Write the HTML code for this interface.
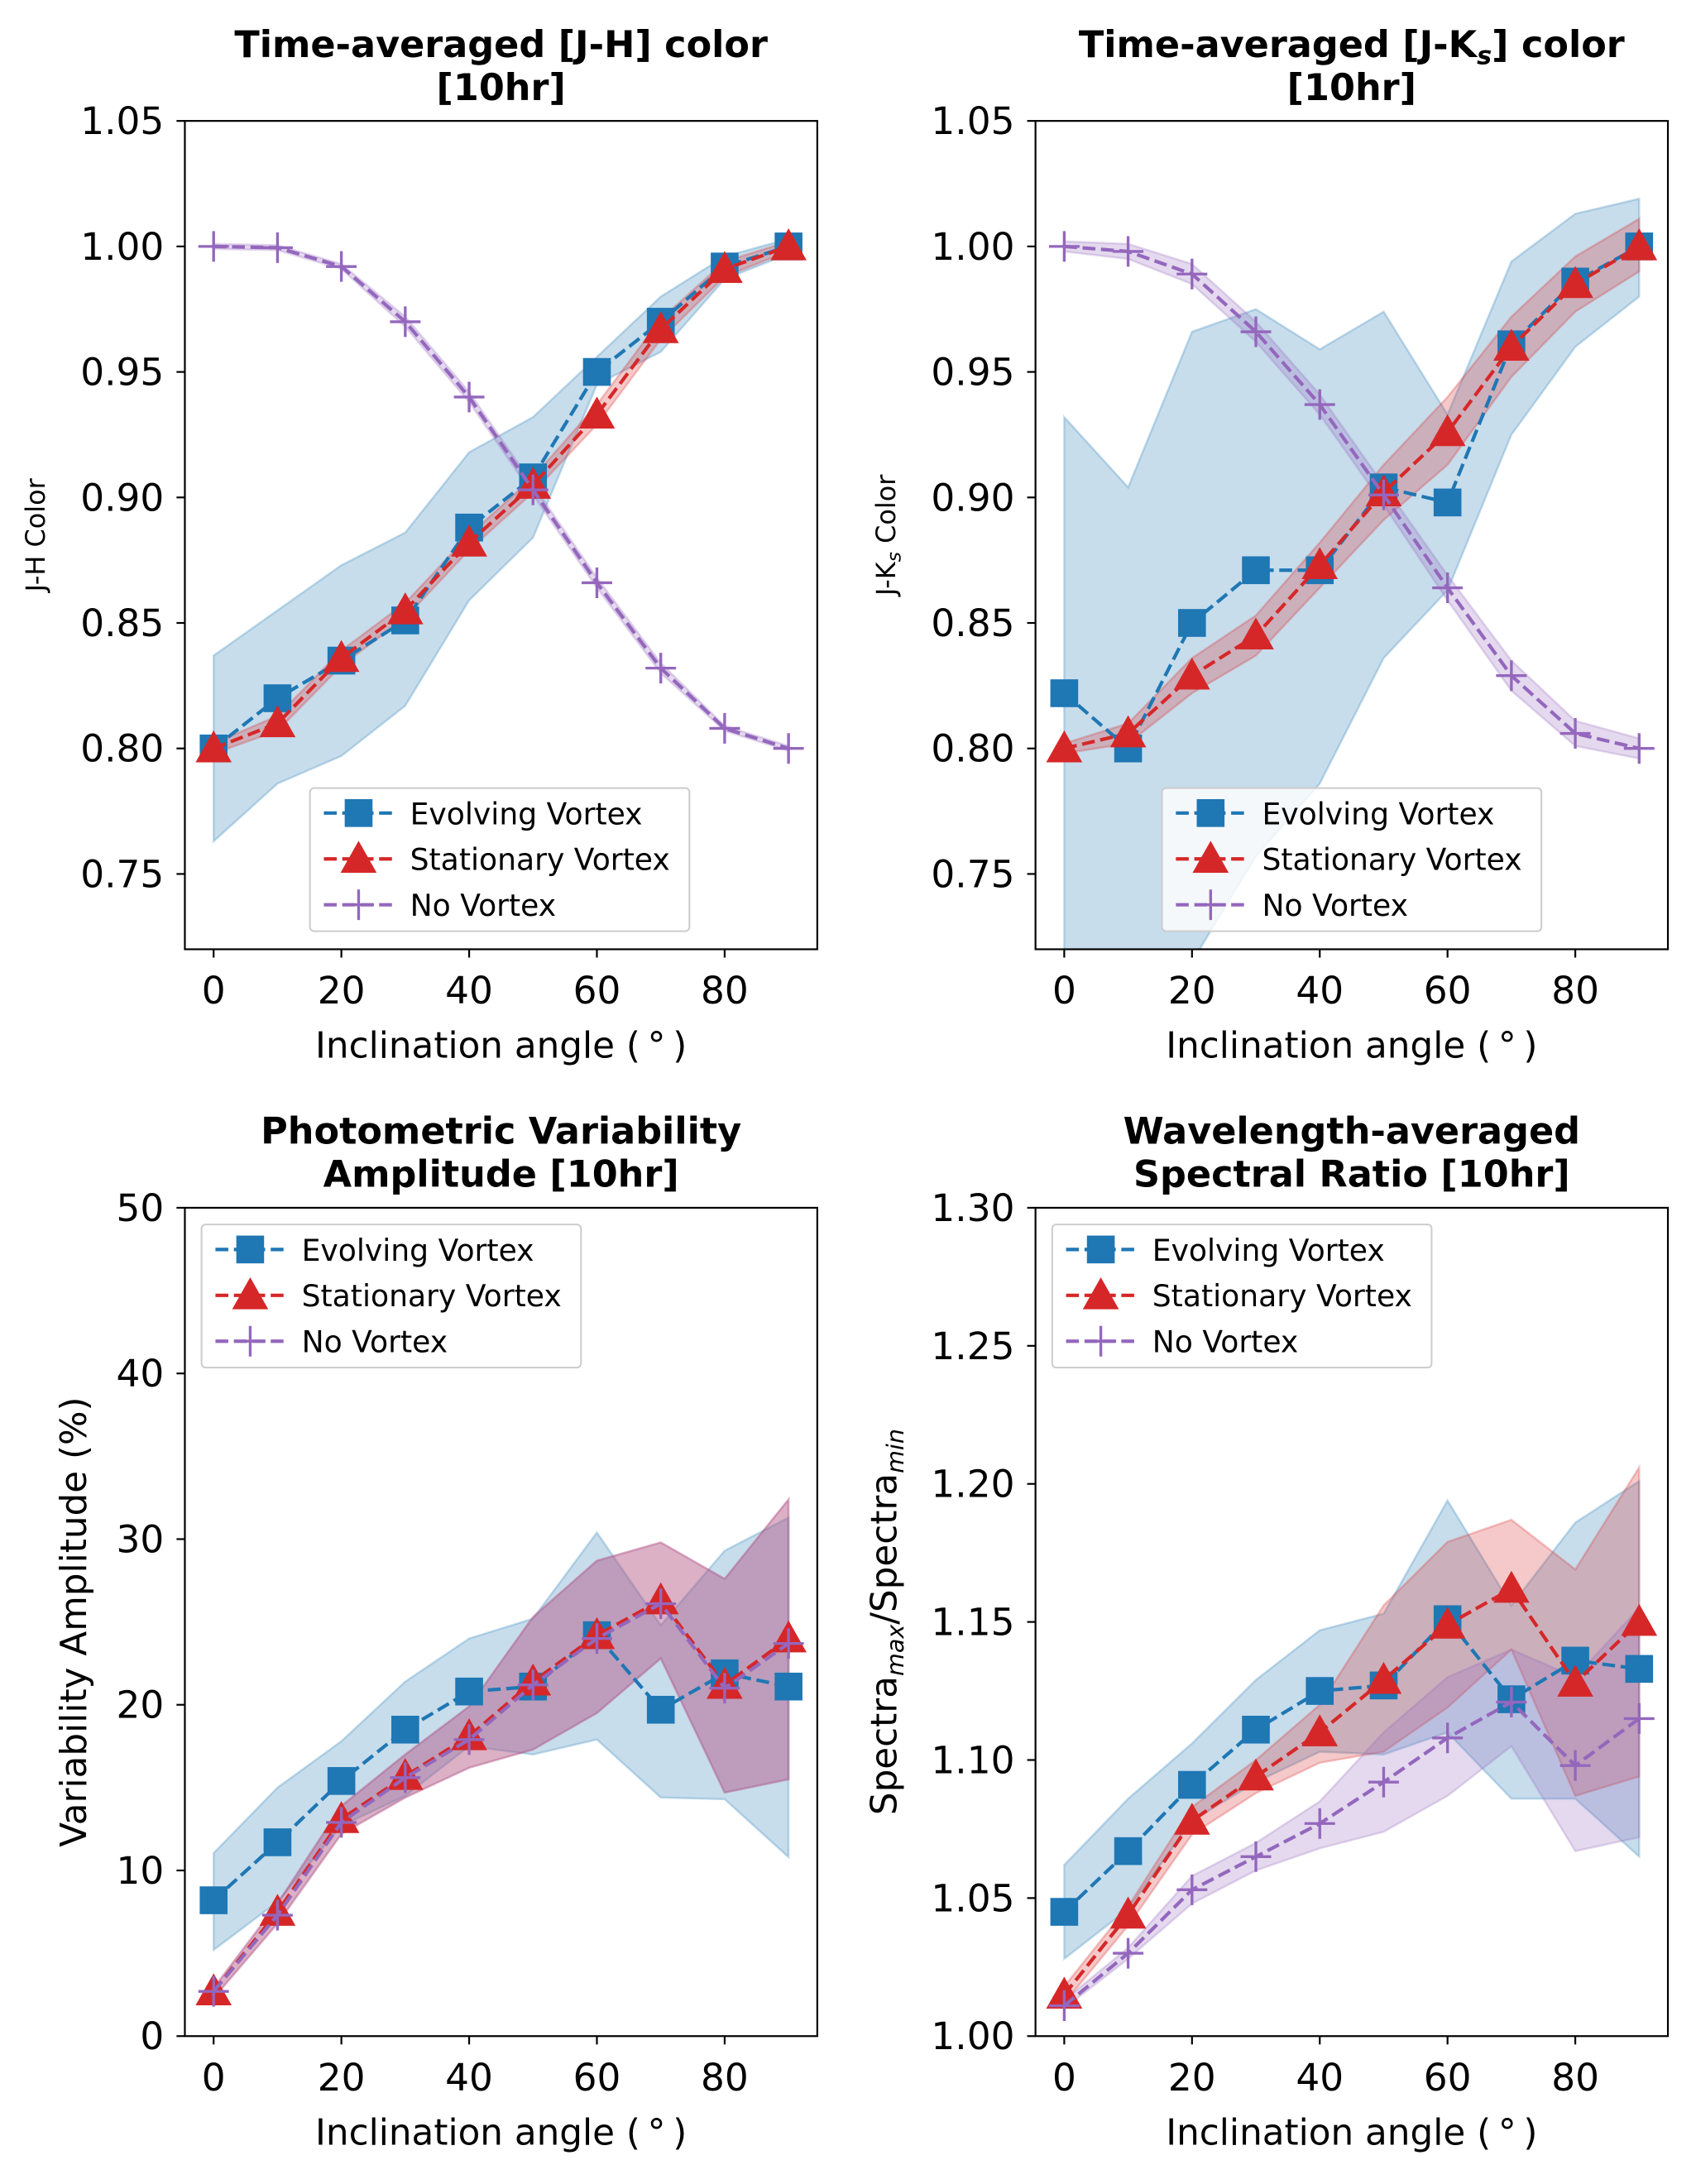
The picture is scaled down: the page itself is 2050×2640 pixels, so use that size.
<!DOCTYPE html>
<html><head><meta charset="utf-8"><style>
html,body{margin:0;padding:0;background:#fff}
svg{display:block}
text{font-family:"DejaVu Sans","Liberation Sans",sans-serif}
</style></head><body>
<svg id="fig" xmlns="http://www.w3.org/2000/svg" width="2050" height="2640" viewBox="0 0 1220.2 1571.4"></svg>
<script>
const angles=[0,10,20,30,40,50,60,70,80,90];
const xTicks=[0,20,40,60,80];
// Panel A: J-H
const jhEvo=[0.80,0.82,0.835,0.851,0.888,0.908,0.95,0.97,0.992,1.0];
const jhEvoLo=[0.763,0.786,0.797,0.817,0.859,0.884,0.945,0.958,0.987,0.997];
const jhEvoHi=[0.837,0.855,0.873,0.886,0.918,0.932,0.956,0.98,0.996,1.003];
const jhSta=[0.80,0.81,0.836,0.855,0.882,0.905,0.933,0.967,0.991,1.0];
const jhStaLo=[0.798,0.807,0.833,0.852,0.879,0.902,0.929,0.963,0.988,0.998];
const jhStaHi=[0.802,0.813,0.839,0.858,0.885,0.908,0.937,0.971,0.994,1.002];
const jhNo=[1.0,0.9995,0.992,0.97,0.94,0.903,0.866,0.832,0.808,0.80];
const jhNoLo=[0.999,0.9985,0.991,0.968,0.938,0.901,0.864,0.830,0.807,0.799];
const jhNoHi=[1.001,1.0005,0.993,0.972,0.942,0.905,0.868,0.834,0.809,0.801];
const jhTicks=[0.75,0.80,0.85,0.90,0.95,1.00,1.05];
// Panel B: J-Ks
const jkEvo=[0.822,0.80,0.85,0.871,0.871,0.904,0.898,0.961,0.986,1.0];
const jkEvoLo=[0.60,0.65,0.715,0.757,0.786,0.836,0.863,0.925,0.96,0.98];
const jkEvoHi=[0.932,0.904,0.966,0.975,0.959,0.974,0.933,0.994,1.013,1.019];
const jkSta=[0.80,0.806,0.829,0.845,0.873,0.902,0.926,0.96,0.985,1.0];
const jkStaLo=[0.798,0.802,0.822,0.837,0.864,0.891,0.913,0.948,0.974,0.99];
const jkStaHi=[0.802,0.810,0.836,0.853,0.882,0.913,0.940,0.972,0.996,1.011];
const jkNo=[1.0,0.998,0.989,0.966,0.937,0.901,0.864,0.829,0.806,0.80];
const jkNoLo=[0.998,0.995,0.985,0.962,0.933,0.897,0.859,0.823,0.801,0.796];
const jkNoHi=[1.002,1.001,0.993,0.970,0.941,0.905,0.869,0.835,0.811,0.804];
const jkTicks=[0.75,0.80,0.85,0.90,0.95,1.00,1.05];
// Panel C: variability amplitude
const vaEvo=[8.2,11.7,15.4,18.5,20.8,21.1,24.2,19.7,21.9,21.1];
const vaEvoLo=[5.2,8.1,12.7,14.5,17.5,17.0,17.9,14.4,14.3,10.8];
const vaEvoHi=[11.05,15.0,17.8,21.4,24.0,25.2,30.4,24.8,29.3,31.3];
const vaSta=[2.7,7.5,13.1,15.7,18.1,21.4,24.2,26.3,21.2,24.0];
const vaStaLo=[2.3,6.8,12.2,14.4,16.2,17.3,19.5,22.8,14.7,15.5];
const vaStaHi=[2.9,8.0,13.9,17.0,19.9,25.3,28.7,29.8,27.6,32.4];
const vaNo=[2.7,7.3,12.9,15.6,17.9,21.2,24.0,26.1,21.0,23.7];
const vaNoLo=[2.3,6.8,12.2,14.4,16.2,17.3,19.5,22.8,14.7,15.5];
const vaNoHi=[2.9,8.0,13.9,17.0,19.9,25.3,28.7,29.8,27.6,32.4];
const vaTicks=[0,10,20,30,40,50];
// Panel D: spectral ratio
const srEvo=[1.045,1.067,1.091,1.111,1.125,1.127,1.151,1.122,1.136,1.133];
const srEvoLo=[1.028,1.046,1.078,1.092,1.103,1.102,1.11,1.086,1.086,1.065];
const srEvoHi=[1.062,1.086,1.106,1.129,1.147,1.153,1.194,1.156,1.186,1.201];
const srSta=[1.015,1.044,1.078,1.094,1.11,1.129,1.149,1.162,1.128,1.15];
const srStaLo=[1.012,1.04,1.073,1.088,1.099,1.103,1.119,1.14,1.087,1.094];
const srStaHi=[1.018,1.047,1.083,1.1,1.12,1.156,1.179,1.187,1.169,1.206];
const srNo=[1.011,1.03,1.053,1.065,1.077,1.092,1.108,1.121,1.098,1.115];
const srNoLo=[1.010,1.028,1.048,1.06,1.068,1.074,1.087,1.105,1.067,1.072];
const srNoHi=[1.013,1.032,1.058,1.07,1.085,1.11,1.13,1.14,1.13,1.155];
const srTicks=[1.00,1.05,1.10,1.15,1.20,1.25,1.30];

const NS="http://www.w3.org/2000/svg";
const fig=document.getElementById('fig');
const BLUE="#1f77b4",RED="#d62728",PURP="#9467bd";
const TICKFS=27,LABFS=26,TITFS=26.5,LEGFS=21.5;
function mk(tag,attrs,parent){const e=document.createElementNS(NS,tag);for(const k in attrs)e.setAttribute(k,attrs[k]);(parent||fig).appendChild(e);return e;}

function panel(o){
  const g=mk('g',{});
  
  
  const L=o.L,R=o.L+455,T=o.T,B=o.T+596;
  const xs=v=>L+(v+4.5)/99*(R-L);
  const ys=v=>B-(v-o.ymin)/(o.ymax-o.ymin)*(B-T);
  const cid='clip'+o.id;
  const cp=mk('clipPath',{id:cid},g);mk('rect',{x:L,y:T,width:R-L,height:B-T},cp);
  const pg=mk('g',{'clip-path':'url(#'+cid+')'},g);
  function band(lo,hi,color,nm){
    let d='';angles.forEach((a,i)=>{d+=(i?'L':'M')+xs(a).toFixed(2)+','+ys(hi[i]).toFixed(2);});
    for(let i=angles.length-1;i>=0;i--)d+='L'+xs(angles[i]).toFixed(2)+','+ys(lo[i]).toFixed(2);
    const p=mk('path',{d:d+'Z',fill:color,'fill-opacity':0.25,stroke:color,'stroke-opacity':0.25,'stroke-width':1.5},pg);
    
    
  }
  function series(vals,color,marker,dash,nm){
    const pts=angles.map((a,i)=>xs(a).toFixed(2)+','+ys(vals[i]).toFixed(2)).join(' ');
    const l=mk('polyline',{points:pts,fill:'none',stroke:color,'stroke-width':2.5,'stroke-dasharray':dash},pg);
    
    
    angles.forEach((a,i)=>{
      const m=drawMarker(pg,marker,xs(a),ys(vals[i]),color);
      
      
    });
  }
  band(o.evoLo,o.evoHi,BLUE,'evolving');
  band(o.staLo,o.staHi,RED,'stationary');
  band(o.noLo,o.noHi,PURP,'no-vortex');
  series(o.evo,BLUE,'s','9.25,4','evolving');
  series(o.sta,RED,'t','9.25,4','stationary');
  series(o.no,PURP,'p','9.25,4','no-vortex');
  mk('rect',{x:L,y:T,width:R-L,height:B-T,fill:'none',stroke:'#000','stroke-width':1.3},g);
  xTicks.forEach(t=>{
    mk('line',{x1:xs(t),x2:xs(t),y1:B,y2:B+6,stroke:'#000','stroke-width':1.3},g);
    const tx=mk('text',{x:xs(t),y:B+39,'font-size':TICKFS,'text-anchor':'middle'},g);tx.textContent=t;
    
    
  });
  o.ticks.forEach(t=>{
    mk('line',{x1:L-6,x2:L,y1:ys(t),y2:ys(t),stroke:'#000','stroke-width':1.3},g);
    const tx=mk('text',{x:L-15,y:ys(t)+9.5,'font-size':TICKFS,'text-anchor':'end'},g);tx.textContent=o.fmt(t);
    
    
  });
  const xl=mk('text',{x:(L+R)/2,y:B+78,'font-size':LABFS,'text-anchor':'middle'},g);
  xl.textContent='Inclination angle (\u2009\u00b0\u2009)';
  
  
  const yl=mk('text',{transform:'translate('+o.ylx+','+((T+B)/2+o.yoff)+') rotate(-90)','font-size':o.yfs,'text-anchor':'middle'},g);
  yl.innerHTML=o.ylabel;
  
  
  o.title.forEach((s,i)=>{
    const t=mk('text',{x:(L+R)/2,y:T-46+i*31,'font-size':TITFS,'font-weight':'bold','text-anchor':'middle'},g);
    t.innerHTML=s;
    
    
  });
  const lx=o.legX,ly=o.legY;
  const lg=mk('g',{},g);
  
  
  mk('rect',{x:lx,y:ly,width:273,height:103,rx:3,fill:'#fff','fill-opacity':0.8,stroke:'#ccc','stroke-width':1.2},lg);
  [['Evolving Vortex',BLUE,'s'],['Stationary Vortex',RED,'t'],['No Vortex',PURP,'p']].forEach((e,i)=>{
    const cy=ly+18+i*33;
    const eg=mk('g',{},lg);
    
    
    mk('line',{x1:lx+10,x2:lx+60,y1:cy,y2:cy,stroke:e[1],'stroke-width':2.5,'stroke-dasharray':'9.25,4'},eg);
    drawMarker(eg,e[2],lx+35,cy,e[1]);
    const t=mk('text',{x:lx+72,y:cy+8,'font-size':LEGFS},eg);t.textContent=e[0];
  });
}
function drawMarker(parent,type,x,y,c){
  if(type==='s')return mk('rect',{x:x-10,y:y-10,width:20,height:20,fill:c},parent);
  if(type==='t')return mk('polygon',{points:`${x},${y-13} ${x+13},${y+10} ${x-13},${y+10}`,fill:c},parent);
  return mk('path',{d:`M${x-11},${y}H${x+11}M${x},${y-11}V${y+11}`,stroke:c,'stroke-width':2},parent);
}
const f2=t=>t.toFixed(2);
panel({id:'a',name:'jh-color-panel',L:133,T:87,ymin:0.72,ymax:1.05,ticks:jhTicks,fmt:f2,
  evo:jhEvo,evoLo:jhEvoLo,evoHi:jhEvoHi,sta:jhSta,staLo:jhStaLo,staHi:jhStaHi,no:jhNo,noLo:jhNoLo,noHi:jhNoHi,
  title:['Time-averaged [J-H] color','[10hr]'],ylabel:'J-H Color',ylx:32,yoff:0,yfs:19,legX:223,legY:567});
panel({id:'b',name:'jks-color-panel',L:745,T:87,ymin:0.72,ymax:1.05,ticks:jkTicks,fmt:f2,
  evo:jkEvo,evoLo:jkEvoLo,evoHi:jkEvoHi,sta:jkSta,staLo:jkStaLo,staHi:jkStaHi,no:jkNo,noLo:jkNoLo,noHi:jkNoHi,
  title:['Time-averaged [J-K<tspan font-size="18" dy="5" font-style="italic">s</tspan><tspan dy="-5">] color</tspan>','[10hr]'],
  ylabel:'J-K<tspan font-size="14" dy="4" font-style="italic">s</tspan><tspan dy="-4"> Color</tspan>',ylx:644,yoff:0,yfs:19,legX:836,legY:567});
panel({id:'c',name:'variability-panel',L:133,T:869,ymin:0,ymax:50,ticks:vaTicks,fmt:t=>String(t),
  evo:vaEvo,evoLo:vaEvoLo,evoHi:vaEvoHi,sta:vaSta,staLo:vaStaLo,staHi:vaStaHi,no:vaNo,noLo:vaNoLo,noHi:vaNoHi,
  title:['Photometric Variability','Amplitude [10hr]'],ylabel:'Variability Amplitude (%)',ylx:62,yoff:0,yfs:26,legX:145,legY:881});
panel({id:'d',name:'spectral-ratio-panel',L:745,T:869,ymin:1.0,ymax:1.3,ticks:srTicks,fmt:f2,
  evo:srEvo,evoLo:srEvoLo,evoHi:srEvoHi,sta:srSta,staLo:srStaLo,staHi:srStaHi,no:srNo,noLo:srNoLo,noHi:srNoHi,
  title:['Wavelength-averaged',' Spectral Ratio [10hr]'],
  ylabel:'Spectra<tspan font-size="17" dy="5" font-style="italic">max</tspan><tspan dy="-5">/Spectra</tspan><tspan font-size="17" dy="5" font-style="italic">min</tspan>',ylx:645,yoff:0,yfs:26,legX:757,legY:881});
</script>
</body></html>
